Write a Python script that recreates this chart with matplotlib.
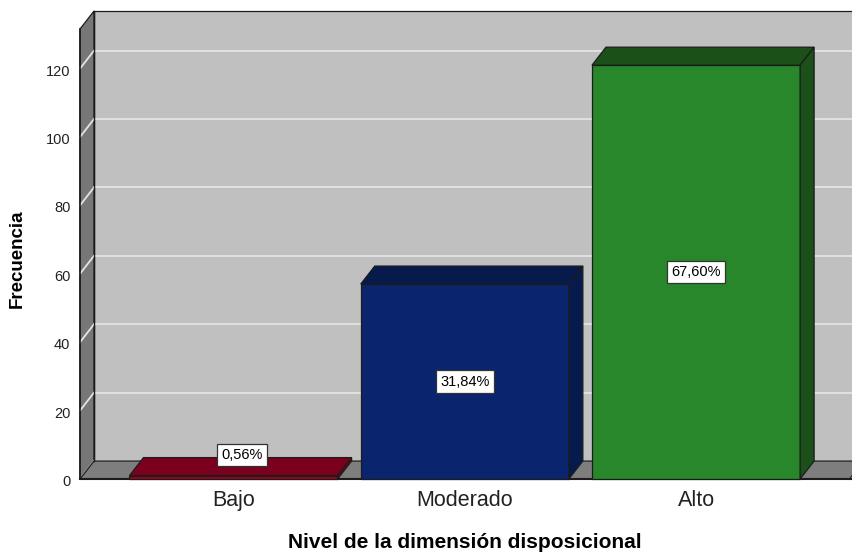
import matplotlib
matplotlib.use("Agg")
import matplotlib.pyplot as plt
from matplotlib.patches import Polygon
import numpy as np

# ---- data -------------------------------------------------------------
categories = ["Bajo", "Moderado", "Alto"]
counts = [1, 57, 121]
percent_labels = ["0,56%", "31,84%", "67,60%"]
y_ticks = [0, 20, 40, 60, 80, 100, 120]

front_colors = ["#a4001f", "#0a256e", "#28862b"]
shade_colors = ["#7b001d", "#061a4c", "#1b5019"]

plt.rcParams['font.family'] = ['Liberation Sans', 'DejaVu Sans']

W, H = 852, 553
fig = plt.figure(figsize=(W / 100, H / 100), dpi=100)

# front plane of the 3-D frame, in pixels
left_px, right_px, base_px, top_px = 80, 849.6, 479, 29
px_per_unit = 3.42
ax = fig.add_axes([left_px / W, 1 - base_px / H,
                   (right_px - left_px) / W, (base_px - top_px) / H])
x0, x1 = -0.664, 2.664
ymax = (base_px - top_px) / px_per_unit
ax.set_xlim(x0, x1)
ax.set_ylim(0, ymax)
for s in ax.spines.values():
    s.set_visible(False)
ax.patch.set_visible(False)

# depth of the 3-D extrusion (14 px right, 18 px up) in data units
o = ax.transData.transform((0, 0))
ddx, ddy = ax.transData.inverted().transform(o + np.array([14.0, 18.0]))

edge = "#1c1c1c"
grid_c = "#e4e4e4"


def poly(pts, fc, z, ec=edge, lw=0.9):
    p = Polygon(pts, closed=True, facecolor=fc, edgecolor=ec, linewidth=lw,
                clip_on=False, zorder=z, joinstyle="miter")
    ax.add_patch(p)


# back wall
poly([(x0 + ddx, ddy), (x1 + ddx, ddy), (x1 + ddx, ymax + ddy), (x0 + ddx, ymax + ddy)],
     "#c0c0c0", 1)
# left wall
poly([(x0, 0), (x0 + ddx, ddy), (x0 + ddx, ymax + ddy), (x0, ymax)], "#777777", 1.5)
# floor
poly([(x0, 0), (x1, 0), (x1 + ddx, ddy), (x0 + ddx, ddy)], "#7e7e7e", 2.5)

# grid lines on back wall and left wall
for v in y_ticks:
    ax.plot([x0 + ddx, x1 + ddx], [v + ddy, v + ddy], color=grid_c, lw=1.3,
            clip_on=False, zorder=2)
    ax.plot([x0, x0 + ddx], [v, v + ddy], color=grid_c, lw=1.3,
            clip_on=False, zorder=2)
# frame edges
ax.plot([x0, x0], [0, ymax], color=edge, lw=1.2, clip_on=False, zorder=2.6)
ax.plot([x0, x1 + 0.2], [0, 0], color=edge, lw=1.5, clip_on=False, zorder=2.6)
ax.plot([x0 + ddx, x0 + ddx], [ddy, ymax + ddy], color=edge, lw=1.0, clip_on=False, zorder=2.6)

# bars
bw = 0.9
for i, (v, fc, sc) in enumerate(zip(counts, front_colors, shade_colors)):
    l, r = i - bw / 2, i + bw / 2
    poly([(l, 0), (r, 0), (r, v), (l, v)], fc, 3 + i)
    poly([(l, v), (r, v), (r + ddx, v + ddy), (l + ddx, v + ddy)], sc, 3 + i)
    poly([(r, 0), (r + ddx, ddy), (r + ddx, v + ddy), (r, v)], sc, 3 + i)

# percentage labels
box = dict(boxstyle="square,pad=0.28", facecolor="white", edgecolor="#333333", linewidth=0.9)
for i, (v, lab) in enumerate(zip(counts, percent_labels)):
    if v * px_per_unit < 30:
        ax.annotate(lab, (i, v), xytext=(6, 15), textcoords="offset points",
                    ha="center", va="center", fontsize=10.5, bbox=box, zorder=10,
                    annotation_clip=False)
    else:
        ax.text(i, v / 2, lab, ha="center", va="center", fontsize=10.5,
                bbox=box, zorder=10)

# axes ticks
ax.set_yticks(y_ticks)
ax.set_yticklabels([str(t) for t in y_ticks], fontsize=10.5, color="#222222",
                   va="top")
for t in ax.get_yticklabels():
    t.set_y(t.get_position()[1])
ax.set_xticks(range(len(categories)))
ax.set_xticklabels(categories, fontsize=15.5, color="#222222")
ax.tick_params(axis="y", length=0, pad=7)
ax.tick_params(axis="x", length=0, pad=8)
# nudge y tick labels a little below their grid lines
from matplotlib.transforms import ScaledTranslation
shift = ScaledTranslation(0, 3 / 100, fig.dpi_scale_trans)
for t in ax.get_yticklabels():
    t.set_va("center")
    t.set_transform(t.get_transform() - shift)

fig.text(465 / W, 1 - 543 / H, "Nivel de la dimensión disposicional",
         ha="center", va="center", fontsize=15, fontweight="bold")
fig.text(17 / W, 1 - 259 / H, "Frecuencia", ha="center", va="center",
         rotation=90, fontsize=13.5, fontweight="bold")

fig.savefig("out.png", dpi=100)
